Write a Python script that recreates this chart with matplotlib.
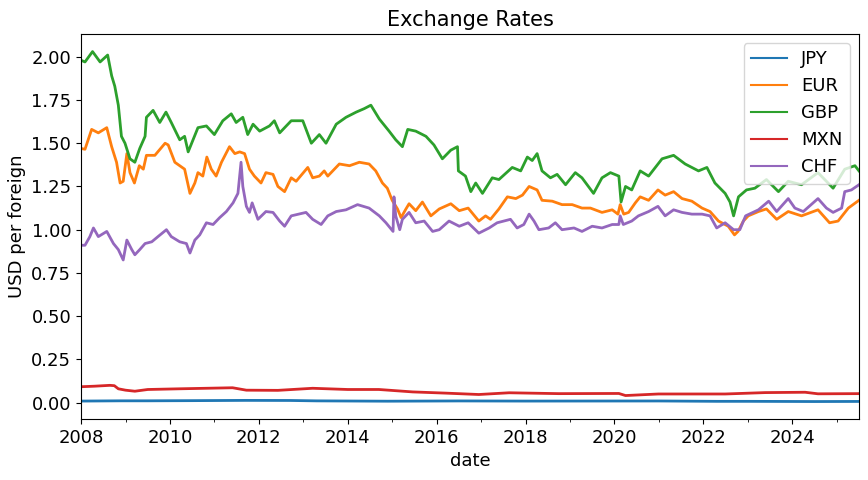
import pandas as pd
import matplotlib
matplotlib.use('Agg')
import matplotlib.pyplot as plt
import matplotlib.dates as mdates

# (decimal year, USD per unit of foreign currency)
jpy = [(2008.0, 0.0090), (2008.9, 0.0105), (2009.5, 0.0105), (2010.5, 0.0115),
       (2011.7, 0.0130), (2012.7, 0.0125), (2013.3, 0.0102), (2014.9, 0.0083),
       (2016.5, 0.0098), (2018.0, 0.0090), (2020.5, 0.0095), (2021.0, 0.0096),
       (2022.3, 0.0075), (2023.0, 0.0075), (2024.5, 0.0063), (2025.5, 0.0069)]

eur = [(2008.0, 1.47), (2008.09, 1.465), (2008.24, 1.58), (2008.39, 1.56), (2008.58, 1.59),
       (2008.69, 1.48), (2008.8, 1.39), (2008.88, 1.27), (2008.95, 1.28), (2009.03, 1.44),
       (2009.1, 1.33), (2009.2, 1.27), (2009.31, 1.37), (2009.4, 1.35), (2009.47, 1.43),
       (2009.66, 1.43), (2009.89, 1.50), (2009.96, 1.49), (2010.11, 1.39), (2010.22, 1.37),
       (2010.33, 1.35), (2010.45, 1.21), (2010.56, 1.27), (2010.63, 1.33), (2010.74, 1.31),
       (2010.83, 1.42), (2010.93, 1.35), (2011.04, 1.31), (2011.16, 1.39), (2011.34, 1.48),
       (2011.46, 1.44), (2011.57, 1.45), (2011.68, 1.44), (2011.79, 1.35), (2011.9, 1.31),
       (2012.05, 1.27), (2012.16, 1.33), (2012.32, 1.32), (2012.43, 1.25), (2012.58, 1.22),
       (2012.73, 1.30), (2012.84, 1.28), (2013.1, 1.36), (2013.21, 1.30), (2013.36, 1.31),
       (2013.47, 1.34), (2013.55, 1.31), (2013.81, 1.38), (2014.04, 1.37), (2014.26, 1.39),
       (2014.48, 1.38), (2014.63, 1.34), (2014.78, 1.27), (2014.89, 1.24), (2015.0, 1.17),
       (2015.12, 1.12), (2015.2, 1.07), (2015.31, 1.12), (2015.38, 1.15), (2015.53, 1.11),
       (2015.68, 1.16), (2015.87, 1.08), (2016.06, 1.12), (2016.32, 1.15), (2016.51, 1.11),
       (2016.71, 1.125), (2016.95, 1.05), (2017.1, 1.08), (2017.21, 1.06), (2017.4, 1.12),
       (2017.59, 1.19), (2017.78, 1.18), (2017.93, 1.20), (2018.08, 1.25), (2018.26, 1.23),
       (2018.37, 1.17), (2018.6, 1.165), (2018.82, 1.145), (2019.05, 1.145), (2019.27, 1.125),
       (2019.46, 1.125), (2019.72, 1.10), (2019.95, 1.115), (2020.08, 1.09), (2020.13, 1.145),
       (2020.21, 1.09), (2020.32, 1.10), (2020.47, 1.155), (2020.58, 1.19), (2020.77, 1.17),
       (2020.98, 1.23), (2021.14, 1.20), (2021.33, 1.22), (2021.52, 1.18), (2021.74, 1.165),
       (2021.97, 1.125), (2022.15, 1.105), (2022.34, 1.05), (2022.56, 1.02), (2022.7, 0.97),
       (2022.78, 0.99), (2022.9, 1.05), (2023.01, 1.08), (2023.24, 1.105), (2023.42, 1.12),
       (2023.65, 1.06), (2023.91, 1.105), (2024.21, 1.08), (2024.58, 1.115), (2024.84, 1.04),
       (2025.03, 1.05), (2025.26, 1.125), (2025.5, 1.17)]

gbp = [(2008.0, 1.98), (2008.09, 1.97), (2008.26, 2.03), (2008.43, 1.97), (2008.6, 2.01),
       (2008.69, 1.89), (2008.76, 1.83), (2008.84, 1.72), (2008.91, 1.54), (2008.99, 1.50),
       (2009.1, 1.41), (2009.21, 1.39), (2009.32, 1.47), (2009.44, 1.54), (2009.47, 1.65),
       (2009.62, 1.69), (2009.77, 1.62), (2009.91, 1.68), (2010.03, 1.62), (2010.22, 1.52),
       (2010.33, 1.54), (2010.41, 1.45), (2010.63, 1.59), (2010.82, 1.60), (2011.0, 1.55),
       (2011.19, 1.63), (2011.38, 1.67), (2011.49, 1.62), (2011.64, 1.65), (2011.75, 1.55),
       (2011.87, 1.61), (2012.02, 1.57), (2012.24, 1.60), (2012.35, 1.63), (2012.47, 1.56),
       (2012.73, 1.63), (2012.99, 1.63), (2013.18, 1.50), (2013.36, 1.55), (2013.51, 1.50),
       (2013.74, 1.61), (2013.96, 1.65), (2014.19, 1.68), (2014.37, 1.70), (2014.52, 1.72),
       (2014.71, 1.64), (2014.93, 1.57), (2015.08, 1.52), (2015.23, 1.48), (2015.35, 1.58),
       (2015.53, 1.57), (2015.76, 1.54), (2015.94, 1.49), (2016.13, 1.41), (2016.32, 1.46),
       (2016.47, 1.48), (2016.49, 1.34), (2016.65, 1.31), (2016.77, 1.22), (2016.88, 1.27),
       (2017.03, 1.21), (2017.25, 1.30), (2017.4, 1.29), (2017.7, 1.36), (2017.89, 1.34),
       (2018.04, 1.42), (2018.15, 1.40), (2018.26, 1.44), (2018.37, 1.34), (2018.56, 1.30),
       (2018.71, 1.32), (2018.9, 1.26), (2019.12, 1.33), (2019.27, 1.30), (2019.53, 1.21),
       (2019.72, 1.30), (2019.91, 1.33), (2020.1, 1.31), (2020.15, 1.16), (2020.25, 1.25),
       (2020.39, 1.23), (2020.58, 1.34), (2020.77, 1.31), (2021.07, 1.41), (2021.33, 1.43),
       (2021.59, 1.38), (2021.89, 1.34), (2022.08, 1.36), (2022.26, 1.27), (2022.49, 1.21),
       (2022.6, 1.16), (2022.68, 1.08), (2022.79, 1.19), (2022.97, 1.23), (2023.16, 1.24),
       (2023.42, 1.29), (2023.69, 1.22), (2023.91, 1.28), (2024.21, 1.26), (2024.58, 1.33),
       (2024.92, 1.24), (2025.18, 1.35), (2025.41, 1.37), (2025.5, 1.34)]

mxn = [(2008.0, 0.092), (2008.3, 0.095), (2008.65, 0.100), (2008.75, 0.098), (2008.84, 0.080),
       (2009.0, 0.072), (2009.21, 0.066), (2009.5, 0.076), (2010.22, 0.080), (2011.41, 0.086),
       (2011.72, 0.072), (2012.43, 0.071), (2013.21, 0.083), (2014.0, 0.076), (2014.7, 0.076),
       (2015.46, 0.062), (2016.2, 0.055), (2016.95, 0.047), (2017.63, 0.057), (2018.75, 0.052),
       (2020.1, 0.053), (2020.25, 0.041), (2020.99, 0.050), (2022.49, 0.050), (2023.39, 0.058),
       (2024.29, 0.060), (2024.58, 0.051), (2025.5, 0.052)]

chf = [(2008.0, 0.91), (2008.09, 0.91), (2008.2, 0.96), (2008.28, 1.01), (2008.39, 0.96),
       (2008.58, 0.99), (2008.73, 0.92), (2008.84, 0.885), (2008.95, 0.825), (2009.03, 0.94),
       (2009.14, 0.885), (2009.21, 0.855), (2009.32, 0.885), (2009.44, 0.92), (2009.59, 0.93),
       (2009.73, 0.96), (2009.92, 1.00), (2010.03, 0.96), (2010.22, 0.93), (2010.37, 0.92),
       (2010.45, 0.865), (2010.56, 0.94), (2010.67, 0.97), (2010.82, 1.04), (2010.97, 1.03),
       (2011.12, 1.07), (2011.27, 1.105), (2011.42, 1.155), (2011.53, 1.21), (2011.6, 1.39),
       (2011.64, 1.25), (2011.72, 1.135), (2011.79, 1.10), (2011.85, 1.155), (2011.98, 1.06),
       (2012.16, 1.105), (2012.32, 1.10), (2012.47, 1.05), (2012.58, 1.02), (2012.73, 1.08),
       (2013.06, 1.10), (2013.21, 1.06), (2013.4, 1.03), (2013.55, 1.08), (2013.74, 1.105),
       (2013.96, 1.115), (2014.22, 1.145), (2014.48, 1.125), (2014.71, 1.08), (2014.86, 1.04),
       (2015.02, 0.99), (2015.04, 1.19), (2015.08, 1.08), (2015.17, 1.00), (2015.23, 1.06),
       (2015.38, 1.10), (2015.53, 1.04), (2015.72, 1.05), (2015.91, 0.99), (2016.06, 1.00),
       (2016.28, 1.05), (2016.51, 1.02), (2016.71, 1.04), (2016.95, 0.98), (2017.18, 1.01),
       (2017.36, 1.04), (2017.66, 1.06), (2017.81, 1.01), (2017.96, 1.03), (2018.08, 1.09),
       (2018.19, 1.05), (2018.3, 1.00), (2018.52, 1.01), (2018.67, 1.04), (2018.82, 1.00),
       (2019.09, 1.01), (2019.27, 0.99), (2019.5, 1.02), (2019.72, 1.01), (2019.95, 1.03),
       (2020.1, 1.03), (2020.13, 1.08), (2020.2, 1.03), (2020.39, 1.05), (2020.54, 1.08),
       (2020.77, 1.105), (2020.98, 1.135), (2021.14, 1.08), (2021.33, 1.115), (2021.52, 1.10),
       (2021.74, 1.09), (2021.97, 1.09), (2022.15, 1.08), (2022.3, 1.01), (2022.49, 1.04),
       (2022.68, 1.00), (2022.82, 1.00), (2022.95, 1.08), (2023.24, 1.115), (2023.47, 1.165),
       (2023.65, 1.105), (2023.91, 1.18), (2024.06, 1.125), (2024.25, 1.105), (2024.58, 1.18),
       (2024.77, 1.125), (2024.92, 1.10), (2025.11, 1.125), (2025.18, 1.22), (2025.33, 1.23),
       (2025.5, 1.26)]

series = [('JPY', jpy), ('EUR', eur), ('GBP', gbp), ('MXN', mxn), ('CHF', chf)]


def to_date(y):
    yr = int(y)
    return pd.Timestamp(yr, 1, 1) + pd.Timedelta(days=(y - yr) * 365.25)


fig, ax = plt.subplots(figsize=(8.68, 4.8), dpi=100)
fig.subplots_adjust(left=0.0933, right=0.9896, top=0.929, bottom=0.127)

first = last = None
for name, pts in series:
    dates = [to_date(t) for t, _ in pts]
    vals = [v for _, v in pts]
    ax.plot(dates, vals, label=name, lw=2.0)
    first = dates[0] if first is None else min(first, dates[0])
    last = dates[-1] if last is None else max(last, dates[-1])

ax.set_xlim(first, last)
ax.xaxis.set_major_locator(mdates.YearLocator(2))
ax.xaxis.set_minor_locator(mdates.YearLocator(1))
ax.xaxis.set_major_formatter(mdates.DateFormatter('%Y'))
ax.tick_params(axis='both', which='major', labelsize=13)

ax.set_title('Exchange Rates', fontsize=15)
ax.set_xlabel('date', fontsize=13)
ax.set_ylabel('USD per foreign', fontsize=13)
leg = ax.legend(loc='upper right', fontsize=13)
for line in leg.get_lines():
    line.set_linewidth(1.5)

fig.savefig('out.png', dpi=100)
